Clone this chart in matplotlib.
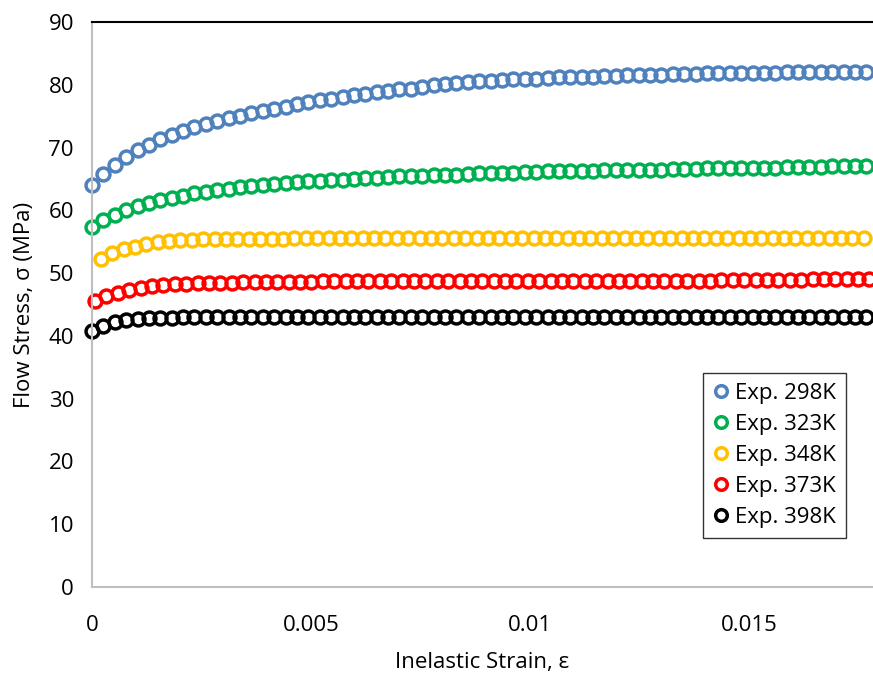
import numpy as np
import matplotlib
matplotlib.use("Agg")
import matplotlib.pyplot as plt

plt.rcParams['font.family'] = ['Open Sans', 'DejaVu Sans']

# strain grid, in units of 1e-5
strain_1e5 = [0, 26, 52, 78, 104, 130, 156, 182, 208, 234,
              260, 286, 312, 338, 364, 390, 416, 442, 468, 494,
              520, 546, 572, 598, 624, 650, 676, 702, 728, 754,
              780, 806, 832, 858, 884, 910, 936, 962, 988, 1014,
              1040, 1066, 1092, 1118, 1144, 1170, 1196, 1222, 1248, 1274,
              1300, 1326, 1352, 1378, 1404, 1430, 1456, 1482, 1508, 1534,
              1560, 1586, 1612, 1638, 1664, 1690, 1716, 1742, 1768]

labels = ['Exp. 298K', 'Exp. 323K', 'Exp. 348K', 'Exp. 373K', 'Exp. 398K']
colors = ['#4F81BD', '#00B050', '#FFC000', '#FF0000', '#000000']
strain_offset = [0.0, 0.0, 0.0002, 0.00007, 0.0]

stress_298 = [64.0, 65.8, 67.2, 68.5, 69.6, 70.4, 71.3, 72.0, 72.6, 73.2,
              73.7, 74.3, 74.7, 75.0, 75.5, 75.9, 76.1, 76.5, 76.9, 77.2,
              77.6, 77.8, 78.1, 78.4, 78.6, 78.8, 79.0, 79.3, 79.4, 79.7,
              80.0, 80.1, 80.3, 80.4, 80.6, 80.6, 80.7, 80.9, 80.9, 81.0,
              81.1, 81.2, 81.2, 81.3, 81.3, 81.4, 81.4, 81.5, 81.5, 81.6,
              81.6, 81.7, 81.7, 81.7, 81.8, 81.8, 81.8, 81.9, 81.9, 81.9,
              81.9, 82.0, 82.0, 82.0, 82.0, 82.0, 82.1, 82.1, 82.1]
stress_323 = [57.3, 58.5, 59.3, 60.0, 60.7, 61.2, 61.6, 62.0, 62.3, 62.7,
              63.0, 63.2, 63.4, 63.7, 63.9, 64.1, 64.2, 64.4, 64.5, 64.6,
              64.7, 64.8, 64.9, 65.0, 65.1, 65.2, 65.3, 65.4, 65.5, 65.5,
              65.6, 65.7, 65.7, 65.8, 65.9, 65.9, 66.0, 66.0, 66.1, 66.1,
              66.2, 66.2, 66.3, 66.3, 66.3, 66.4, 66.4, 66.4, 66.5, 66.5,
              66.5, 66.6, 66.6, 66.6, 66.7, 66.7, 66.7, 66.8, 66.8, 66.8,
              66.8, 66.9, 66.9, 66.9, 66.9, 67.0, 67.0, 67.0, 67.1]
stress_348 = [52.2, 53.2, 53.8, 54.2, 54.6, 54.9, 55.1, 55.2, 55.3, 55.4,
              55.4, 55.5, 55.5, 55.5, 55.5, 55.5, 55.5, 55.6, 55.6, 55.6,
              55.6, 55.6, 55.6, 55.6, 55.6, 55.6, 55.6, 55.6, 55.6, 55.6,
              55.6, 55.6, 55.6, 55.6, 55.6, 55.6, 55.6, 55.6, 55.6, 55.6,
              55.6, 55.6, 55.6, 55.6, 55.6, 55.6, 55.6, 55.6, 55.6, 55.6,
              55.6, 55.6, 55.6, 55.6, 55.6, 55.6, 55.6, 55.6, 55.6, 55.6,
              55.6, 55.6, 55.6, 55.6, 55.6, 55.6, 55.6, 55.6]
stress_373 = [45.5, 46.3, 46.9, 47.3, 47.6, 47.9, 48.1, 48.2, 48.3, 48.4,
              48.5, 48.5, 48.5, 48.6, 48.6, 48.6, 48.6, 48.6, 48.6, 48.6,
              48.7, 48.7, 48.7, 48.7, 48.7, 48.7, 48.7, 48.7, 48.7, 48.7,
              48.7, 48.7, 48.7, 48.7, 48.7, 48.7, 48.7, 48.7, 48.7, 48.7,
              48.8, 48.8, 48.8, 48.8, 48.8, 48.8, 48.8, 48.8, 48.8, 48.8,
              48.8, 48.8, 48.8, 48.8, 48.8, 48.9, 48.9, 48.9, 48.9, 48.9,
              48.9, 48.9, 48.9, 49.0, 49.0, 49.0, 49.0, 49.0, 49.0]
stress_398 = [40.7, 41.6, 42.2, 42.5, 42.7, 42.8, 42.9, 42.9, 43.0, 43.0,
              43.0, 43.0, 43.0, 43.0, 43.0, 43.0, 43.0, 43.0, 43.0, 43.0,
              43.0, 43.0, 43.0, 43.0, 43.0, 43.0, 43.0, 43.0, 43.0, 43.0,
              43.0, 43.0, 43.0, 43.0, 43.0, 43.0, 43.0, 43.0, 43.0, 43.0,
              43.0, 43.0, 43.0, 43.0, 43.0, 43.0, 43.0, 43.0, 43.0, 43.0,
              43.0, 43.0, 43.0, 43.0, 43.0, 43.0, 43.0, 43.0, 43.0, 43.0,
              43.0, 43.0, 43.0, 43.0, 43.0, 43.0, 43.0, 43.0, 43.0]

series = [stress_298, stress_323, stress_348, stress_373, stress_398]
strain = np.array(strain_1e5) * 1e-5

fig = plt.figure(figsize=(8.73, 6.77), dpi=100)
ax = fig.add_axes([92 / 873, 90 / 677, 781 / 873, 565 / 677])

for ys, off, c, lab in zip(series, strain_offset, colors, labels):
    xs = strain[:len(ys)] + off
    ax.plot(xs, ys, linestyle='none', marker='o', markersize=9.3,
            markerfacecolor='none', markeredgecolor=c, markeredgewidth=2.5,
            label=lab, clip_on=False)

ax.set_xlim(0, 0.01783)
ax.set_ylim(0, 90)
ax.set_xticks([0, 0.005, 0.01, 0.015])
ax.set_xticklabels(['0', '0.005', '0.01', '0.015'])
ax.set_yticks(range(0, 91, 10))
ax.tick_params(axis='both', length=0, labelsize=16)
ax.tick_params(axis='x', pad=20)
ax.tick_params(axis='y', pad=13)

for s in ['left', 'bottom']:
    ax.spines[s].set_color('#BFBFBF')
    ax.spines[s].set_linewidth(1.5)
ax.spines['top'].set_color('black')
ax.spines['top'].set_linewidth(1.5)
ax.spines['right'].set_visible(False)

ax.set_xlabel('Inelastic Strain, ε', fontsize=16, labelpad=12)
ax.set_ylabel('Flow Stress, σ (MPa)', fontsize=16, labelpad=10)

leg = ax.legend(loc='upper left', bbox_to_anchor=(0.782, 0.379), fontsize=16,
                frameon=True, fancybox=False, edgecolor='black',
                handlelength=0.7, handletextpad=0.3, labelspacing=0.45,
                borderpad=0.45, borderaxespad=0, markerscale=0.9)
leg.get_frame().set_linewidth(1.0)

fig.savefig('out.png', dpi=100)
